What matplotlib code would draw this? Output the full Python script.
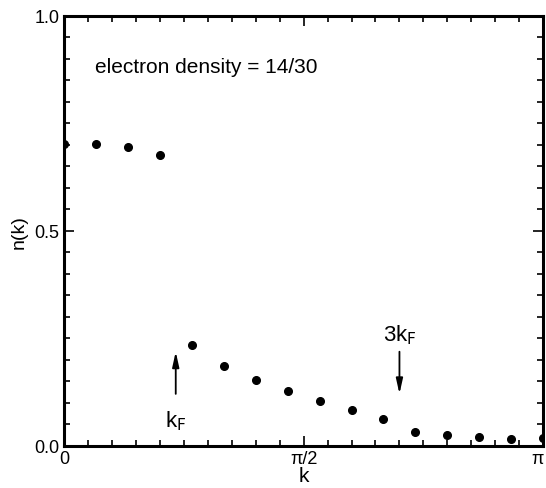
import numpy as np
import matplotlib.pyplot as plt
from matplotlib.ticker import FixedLocator, MultipleLocator

plt.rcParams['font.family'] = ['Liberation Sans', 'DejaVu Sans']

# momentum index, k = pi * n / 15
n_idx = np.arange(16)
nk = [0.702, 0.701, 0.694, 0.677, 0.234, 0.185, 0.153, 0.128,
      0.105, 0.084, 0.063, 0.033, 0.025, 0.020, 0.017, 0.018]
density_label = 'electron density = 14/30'
kF = 7 * np.pi / 30
x_ticks = [0, np.pi / 2, np.pi]
x_ticklabels = ['0', 'π/2', 'π']
y_ticks = [0.0, 0.5, 1.0]
y_ticklabels = ['0.0', '0.5', '1.0']

k = np.pi * n_idx / 15

fig = plt.figure(figsize=(5.46, 4.89), dpi=100)
ax = fig.add_axes([0.117, 0.086, 0.878, 0.880])

ax.plot(k, nk, 'o', color='black', markersize=5.5)

ax.set_xlim(0, np.pi)
ax.set_ylim(0, 1.0)

# ticks
ax.xaxis.set_major_locator(FixedLocator(x_ticks))
ax.set_xticklabels(x_ticklabels)
ax.xaxis.set_minor_locator(MultipleLocator(np.pi / 20))
ax.set_yticks(y_ticks)
ax.set_yticklabels(y_ticklabels)
ax.yaxis.set_minor_locator(MultipleLocator(0.05))
ax.tick_params(which='both', direction='in', top=True, right=True,
               labelsize=13, width=1.2)
ax.tick_params(which='major', length=7, pad=3)
ax.tick_params(which='minor', length=4)
ax.get_xticklabels()[-1].set_horizontalalignment('right')
for s in ax.spines.values():
    s.set_linewidth(2.2)

ax.set_xlabel('k', fontsize=15, labelpad=-1)
ax.set_ylabel('n(k)', fontsize=14, labelpad=5)

# annotations
ax.text(0.065, 0.868, density_label, transform=ax.transAxes, fontsize=15,
        va='baseline')
arrow = dict(arrowstyle='-|>,head_length=0.9,head_width=0.2',
             color='black', lw=1.3, shrinkA=0, shrinkB=0)
ax.annotate('', xy=(kF, 0.219), xytext=(kF, 0.121), arrowprops=arrow)
ax.text(kF, 0.045, r'k$_\mathrm{F}$', ha='center', fontsize=16)
ax.annotate('', xy=(3 * kF, 0.121), xytext=(3 * kF, 0.219), arrowprops=arrow)
ax.text(3 * kF, 0.245, r'3k$_\mathrm{F}$', ha='center', fontsize=16)

fig.savefig('out.png', dpi=100)
